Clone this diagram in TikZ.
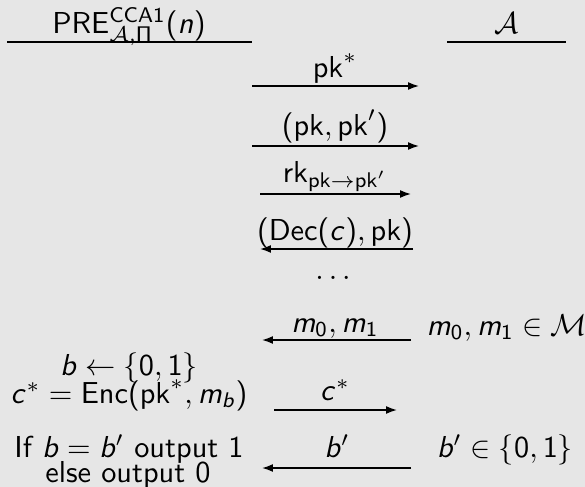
\documentclass[tikz,border=0pt]{standalone}
\usetikzlibrary{arrows.meta}
\renewcommand{\familydefault}{\sfdefault}
\DeclareSymbolFont{sfitalic}{OT1}{cmss}{m}{sl}
\SetSymbolFont{operators}{normal}{OT1}{cmss}{m}{n}
\DeclareMathSymbol{b}{\mathalpha}{sfitalic}{`b}
\DeclareMathSymbol{c}{\mathalpha}{sfitalic}{`c}
\DeclareMathSymbol{m}{\mathalpha}{sfitalic}{`m}
\DeclareMathSymbol{n}{\mathalpha}{sfitalic}{`n}
\definecolor{bg}{RGB}{230,230,230}
\begin{document}
\begin{tikzpicture}[x=0.33pt,y=-0.33pt,
  lbl/.style={anchor=base,inner sep=0pt,outer sep=0pt},
  msg/.style={line width=0.5pt,-{Latex[length=3.6pt,width=2.6pt]}},
  rulel/.style={line width=0.45pt}]
\fill[bg] (0,0) rectangle (585,487);
\useasboundingbox (0,0) rectangle (585,487);
% headers
\node[lbl] (hC) at (129,33) {PRE$^{\mathsf{CCA1}}_{\mathcal{A},\Pi}(n)$};
\node[lbl] (hA) at (507,33) {$\mathcal{A}$};
\coordinate (hCl) at (7,42);
\coordinate (hCr) at (252,42);
\coordinate (hAl) at (447,42);
\coordinate (hAr) at (566,42);
\draw[rulel] (hCl) -- (hCr);
\draw[rulel] (hAl) -- (hAr);
% message 1
\node[lbl] (l1) at (335,77) {$\mathsf{pk}^*$};
\coordinate (a1s) at (252,86);
\coordinate (a1e) at (419,86);
\draw[msg] (a1s) -- (a1e);
% message 2
\node[lbl] (l2) at (335,135) {$(\mathsf{pk},\mathsf{pk}')$};
\coordinate (a2s) at (252,146);
\coordinate (a2e) at (419,146);
\draw[msg] (a2s) -- (a2e);
% message 3
\node[lbl] (l3) at (335,182) {$\mathsf{rk}_{\mathsf{pk}\rightarrow\mathsf{pk}'}$};
\coordinate (a3s) at (260,194);
\coordinate (a3e) at (411,194);
\draw[msg] (a3s) -- (a3e);
% message 4
\node[lbl] (l4) at (335,240) {$(\mathsf{Dec}(c),\mathsf{pk})$};
\coordinate (a4s) at (413,249);
\coordinate (a4e) at (260,249);
\draw[msg] (a4s) -- (a4e);
% dots
\node[lbl] (dots) at (333,279) {$\ldots$};
% message 5
\node[lbl] (l5) at (335,332) {$m_0,m_1$};
\node[lbl] (r5) at (507,335) {$m_0,m_1\in\mathcal{M}$};
\coordinate (a5s) at (411,340);
\coordinate (a5e) at (262,340);
\draw[msg] (a5s) -- (a5e);
% challenger computation
\node[lbl] (c1) at (129,375) {$b\leftarrow\{0,1\}$};
\node[lbl] (c2) at (129,403) {$c^*=\mathsf{Enc}(\mathsf{pk}^*,m_b)$};
% message 6
\node[lbl] (l6) at (335,400) {$c^*$};
\coordinate (a6s) at (274,410);
\coordinate (a6e) at (397,410);
\draw[msg] (a6s) -- (a6e);
% message 7
\node[lbl] (l7) at (337,457) {$b'$};
\node[lbl] (r7) at (505,457) {$b'\in\{0,1\}$};
\coordinate (a7s) at (411,468);
\coordinate (a7e) at (262,468);
\draw[msg] (a7s) -- (a7e);
\node[lbl] (o1) at (129,457) {If $b=b'$ output 1};
\node[lbl] (o2) at (128,482) {else output 0};
\end{tikzpicture}
\end{document}
